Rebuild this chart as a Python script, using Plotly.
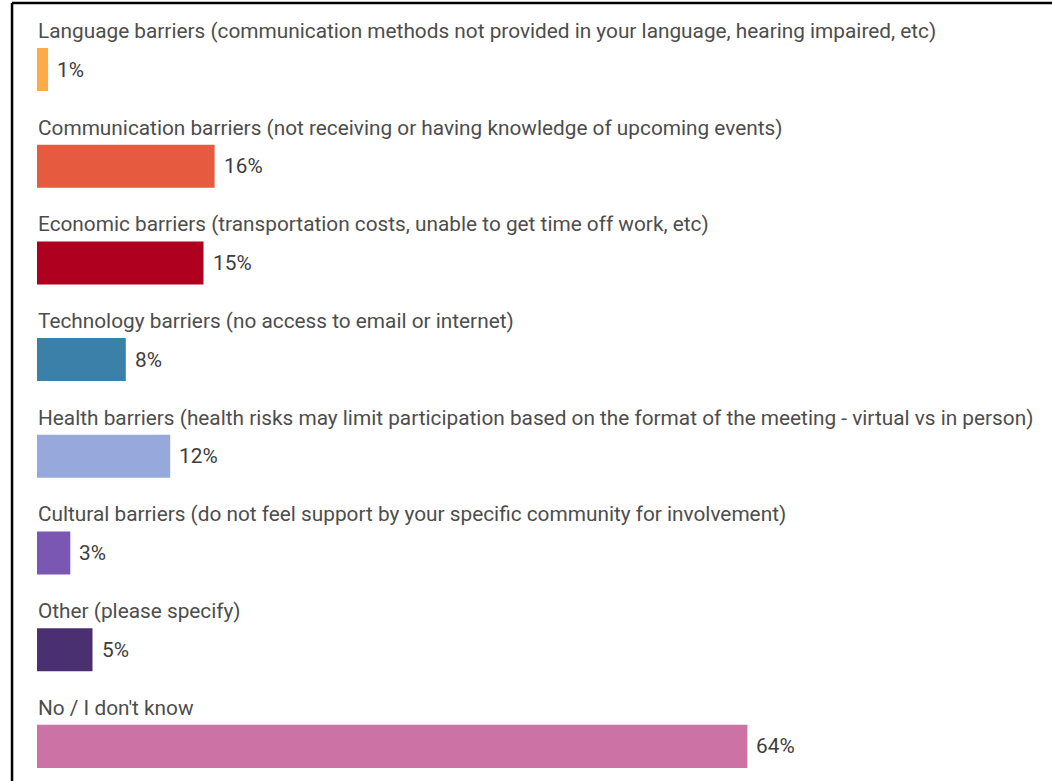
import plotly.graph_objects as go

categories = [
    "Language barriers (communication methods not provided in your language, hearing impaired, etc)",
    "Communication barriers (not receiving or having knowledge of upcoming events)",
    "Economic barriers (transportation costs, unable to get time off work, etc)",
    "Technology barriers (no access to email or internet)",
    "Health barriers (health risks may limit participation based on the format of the meeting - virtual vs in person)",
    "Cultural barriers (do not feel support by your specific community for involvement)",
    "Other (please specify)",
    "No / I don't know",
]
values = [1, 16, 15, 8, 12, 3, 5, 64]
value_labels = ["1%", "16%", "15%", "8%", "12%", "3%", "5%", "64%"]
colors = ["#FDAA48", "#E65A40", "#B0001F", "#3B80A9", "#97A8DC", "#7B57B4", "#4B3071", "#CC72A4"]

fig = go.Figure()
fig.add_trace(go.Bar(
    x=values, y=categories, orientation="h",
    marker=dict(color=colors, line=dict(width=0)),
    width=0.445, hoverinfo="skip",
))

for cat, v, lab in zip(categories, values, value_labels):
    fig.add_annotation(x=0, y=cat, text=cat, xanchor="left", yanchor="middle",
                       yshift=38.5, xshift=-1, showarrow=False,
                       font=dict(family="Roboto", size=20.8, color="#4d4d4d"))
    fig.add_annotation(x=v, y=cat, text=lab, xanchor="left", yanchor="middle",
                       xshift=7, showarrow=False,
                       font=dict(family="Roboto", size=20.8, color="#3d3d3d"))

# frame lines (top and left)
fig.add_shape(type="line", xref="paper", yref="paper", x0=-0.0246, x1=1.05, y0=0.9962, y1=0.9962,
              line=dict(color="#000000", width=2.5))
fig.add_shape(type="line", xref="paper", yref="paper", x0=-0.0246, x1=-0.0246, y0=0.9962, y1=-0.05,
              line=dict(color="#000000", width=2.5))

fig.update_layout(
    width=1052, height=781,
    margin=dict(l=37, r=0, t=0, b=0),
    paper_bgcolor="white", plot_bgcolor="white",
    showlegend=False,
    xaxis=dict(range=[0, 1015 / 11.1], visible=False, fixedrange=True),
    yaxis=dict(categoryorder="array", categoryarray=categories,
               range=[7.358, -0.719], visible=False, fixedrange=True),
)

fig.write_html("out.html", config={"displayModeBar": False},
               post_script="document.body.style.margin='0';document.body.style.overflow='hidden';")
